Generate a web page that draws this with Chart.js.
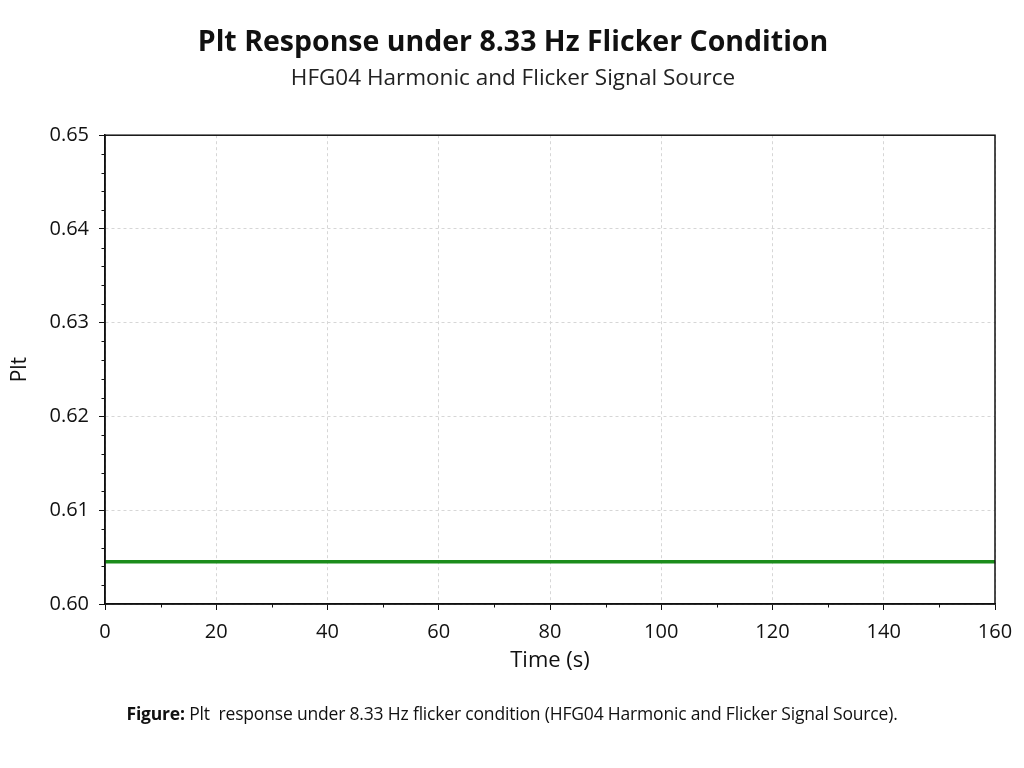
<!DOCTYPE html>
<html>
<head>
<meta charset="utf-8">
<script src="https://cdn.jsdelivr.net/npm/chart.js@4/dist/chart.umd.min.js"></script>
<style>
  html, body { margin: 0; padding: 0; background: #fff; }
  #wrap { position: relative; width: 1024px; height: 768px; }
  #caption {
    position: absolute; left: 0; width: 1024px; top: 701px;
    text-align: center; font-family: "Open Sans", sans-serif; font-size: 17.5px;
    letter-spacing: -0.18px; color: #111;
  }
</style>
</head>
<body>
<div id="wrap">
  <canvas id="myChart" width="1024" height="768"></canvas>
  <div id="caption"><b>Figure:</b> Plt&nbsp; response under 8.33 Hz flicker condition (HFG04 Harmonic and Flicker Signal Source).</div>
</div>
<script>
// datos
var tiempos = [0, 20, 40, 60, 80, 100, 120, 140, 160];
var valoresPlt = [0.6045, 0.6045, 0.6045, 0.6045, 0.6045, 0.6045, 0.6045, 0.6045, 0.6045];
var ticksX = [0, 20, 40, 60, 80, 100, 120, 140, 160];
var ticksY = [0.60, 0.61, 0.62, 0.63, 0.64, 0.65];
var menoresX = [10, 30, 50, 70, 90, 110, 130, 150];
var menoresY = [0.602, 0.604, 0.606, 0.608, 0.612, 0.614, 0.616, 0.618, 0.622, 0.624, 0.626, 0.628,
                0.632, 0.634, 0.636, 0.638, 0.642, 0.644, 0.646, 0.648];

var fuente = "'Open Sans', sans-serif";

// marco y ticks menores
var marco = {
    id: 'marco',
    afterDraw(chart) {
        var c = chart.ctx, a = chart.chartArea;
        var sx = chart.scales.x, sy = chart.scales.y;
        c.save();
        c.setLineDash([]);
        c.strokeStyle = '#111';
        c.lineWidth = 1.5;
        c.strokeRect(a.left, a.top, a.right - a.left, a.bottom - a.top);
        c.lineWidth = 1;
        c.beginPath();
        menoresX.forEach(function (v) {
            var px = Math.round(sx.getPixelForValue(v)) + 0.5;
            c.moveTo(px, a.bottom);
            c.lineTo(px, a.bottom + 3.5);
        });
        menoresY.forEach(function (v) {
            var py = Math.round(sy.getPixelForValue(v)) + 0.5;
            c.moveTo(a.left, py);
            c.lineTo(a.left - 3.5, py);
        });
        c.stroke();
        c.restore();
    }
};

var ctx = document.getElementById('myChart');
Chart.defaults.font.family = fuente;
Chart.defaults.color = '#111';

var rejilla = {
    color: '#d6d6d6',
    tickColor: '#111',
    tickLength: 6,
    tickBorderDash: [],
    tickWidth: 1
};

var myChart = new Chart(ctx, {
    type: 'line',
    data: {
        datasets: [{
            data: tiempos.map(function (t, i) { return { x: t, y: valoresPlt[i] }; }),
            borderColor: '#1b8c1b',
            borderWidth: 3.5,
            pointRadius: 0,
            tension: 0
        }]
    },
    options: {
        responsive: false,
        animation: false,
        layout: { padding: { left: 2, right: 0, top: 0, bottom: 88 } },
        plugins: {
            legend: { display: false },
            tooltip: { enabled: false },
            title: {
                display: true,
                text: 'Plt Response under 8.33 Hz Flicker Condition',
                color: '#111',
                font: { size: 28.5, weight: 'bold', family: fuente },
                padding: { top: 26, bottom: 5 }
            },
            subtitle: {
                display: true,
                text: 'HFG04 Harmonic and Flicker Signal Source',
                color: '#222',
                font: { size: 22.5, family: fuente },
                padding: { top: 0, bottom: 43 }
            }
        },
        scales: {
            x: {
                type: 'linear',
                min: 0,
                max: 160,
                afterBuildTicks: function (s) { s.ticks = ticksX.map(function (v) { return { value: v }; }); },
                afterFit: function (s) { s.height = 76; },
                ticks: { font: { size: 20 }, color: '#111', padding: 10, maxRotation: 0 },
                grid: rejilla,
                border: { color: '#111', width: 1.5, dash: [3, 3] },
                title: { display: true, text: 'Time (s)', font: { size: 22 }, color: '#111', padding: { top: 2, bottom: 6 } }
            },
            y: {
                min: 0.60,
                max: 0.65,
                afterBuildTicks: function (s) { s.ticks = ticksY.map(function (v) { return { value: v }; }); },
                afterFit: function (s) { s.width = 103; },
                ticks: {
                    font: { size: 20 }, color: '#111', padding: 10,
                    callback: function (v) { return v.toFixed(2); }
                },
                grid: rejilla,
                border: { color: '#111', width: 1.5, dash: [3, 3] },
                title: { display: true, text: 'Plt', font: { size: 21 }, color: '#111', padding: { top: 5, bottom: 0 } }
            },
            // eje derecho vacio, solo reserva el margen
            yDer: {
                position: 'right',
                min: 0.60,
                max: 0.65,
                afterFit: function (s) { s.width = 29; },
                ticks: { display: false },
                grid: { display: false },
                border: { display: false }
            }
        }
    },
    plugins: [marco]
});
</script>
</body>
</html>
